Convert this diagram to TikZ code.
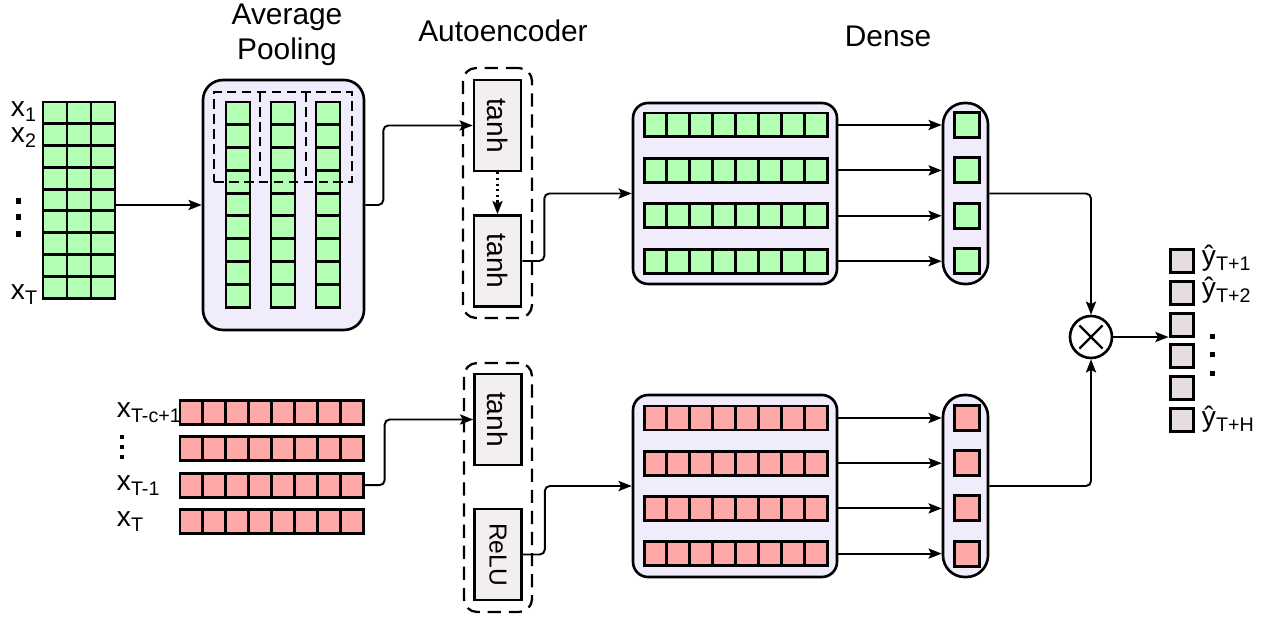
\documentclass[tikz,border=0pt]{standalone}
\usepackage{fontspec,graphicx}
\setmainfont{Liberation Sans}
\usetikzlibrary{arrows.meta,calc,positioning}

\definecolor{cellgreen}{RGB}{179,255,179}
\definecolor{cellred}{RGB}{255,168,168}
\definecolor{boxlav}{RGB}{240,236,252}
\definecolor{actfill}{RGB}{243,238,241}
\definecolor{outfill}{RGB}{229,221,223}

\begin{document}
\begin{tikzpicture}[x=0.02cm,y=-0.02cm,line width=1.1pt,>={Stealth[length=7.5pt,width=5.8pt,inset=1.5pt]},
gcell/.style={draw,fill=cellgreen,line width=1.7pt,inner sep=0pt,minimum width=0.458cm,minimum height=0.48cm},
rcell/.style={gcell,fill=cellred},
lavbox/.style={draw,fill=boxlav,line width=1.5pt,inner sep=0pt},
act/.style={draw,fill=actfill,line width=1.5pt,inner sep=0pt,minimum width=0.94cm,minimum height=1.82cm,font=\fontsize{16}{19}\selectfont},
encwrap/.style={draw,dash pattern=on 7.5pt off 4.5pt,line width=1.3pt,rounded corners=0.26cm,minimum width=1.38cm,minimum height=5cm},
win/.style={dash pattern=on 5.5pt off 3pt,line width=1.1pt},
ocell/.style={draw,fill=outfill,line width=1.7pt,inner sep=0pt,minimum size=0.46cm},
lbl/.style={inner sep=0pt,font=\fontsize{16}{19}\selectfont},
title/.style={inner sep=0pt,font=\fontsize{17}{20}\selectfont},
dot/.style={fill=black,inner sep=0pt,minimum size=#1},
flow/.style={->,rounded corners=0.1cm}]
\useasboundingbox (0,0) rectangle (1271,617);

\node[title,anchor=base] at (287,25) (avg-t) {Average};
\node[title,anchor=base] at (287,60) (pool-t) {Pooling};
\node[title,anchor=base] at (503,42) (enc-t) {Autoencoder};
\node[title,anchor=base] at (888,47) (dense-t) {Dense};

\foreach \r in {1,...,9}
  \foreach \c in {1,2,3}
    \node[gcell,minimum width=0.48cm,minimum height=0.436cm] at ({55+24*(\c-1)},{112.9+21.8*(\r-1)}) (in-\r-\c) {};
\node[lbl,anchor=base west] at (10,117) (x1) {x\textsubscript{1}};
\node[lbl,anchor=base west] at (10,143) (x2) {x\textsubscript{2}};
\node[lbl,anchor=base west] at (10,300) (xT) {x\textsubscript{T}};
\node[dot=0.12cm] at (18.5,201) (dl1) {};
\node[dot=0.12cm] at (18.5,217) (dl2) {};
\node[dot=0.12cm] at (18.5,234) (dl3) {};

\node[lavbox,rounded corners=0.4cm,minimum width=3.22cm,minimum height=5cm] at (283.5,205) (pool) {};
\foreach \c/\xc in {1/238,2/283,3/328}
  \foreach \r in {1,...,9}
    \node[gcell,minimum width=0.48cm,minimum height=0.456cm] at (\xc,{113.4+22.8*(\r-1)}) (pc-\c-\r) {};
\node[win,draw,minimum width=2.76cm,minimum height=1.8cm] at (283,137) (win) {};
\draw[win] (260,92) -- (260,182);
\draw[win] (306,92) -- (306,182);
\draw[->] (in-5-3.east |- pool.west) -- (pool.west);

\node[encwrap] at (497.5,193) (encA) {};
\node[act] at (497.5,125.5) (enc1) {\rotatebox{-90}{tanh}};
\node[act] at (497.5,261) (enc2) {\rotatebox{-90}{tanh}};
\draw[->,dotted,line width=1.2pt] (enc1) -- (enc2);
\draw[flow] (pool.east) -- ++(18,0) |- (enc1.west);

\node[lavbox,rounded corners=0.3cm,minimum width=4.08cm,minimum height=3.62cm] at (735,193.5) (dtop) {};
\foreach \r in {1,...,4}
  \foreach \c in {1,...,8}
    \node[gcell] at ({655.45+22.9*(\c-1)},{125+45.4*(\r-1)}) (dt-\r-\c) {};
\node[lavbox,rounded corners=0.43cm,minimum width=0.9cm,minimum height=3.62cm] at (965.5,193.5) (stop) {};
\foreach \r in {1,...,4} {
  \node[gcell,minimum size=0.5cm] at (966.5,{125+45.4*(\r-1)}) (st-\r) {};
  \draw[->] (dtop.east |- st-\r) -- (st-\r -| stop.west);
}
\draw[flow] (enc2.east) -- ++(22,0) |- (dtop.west);

\foreach \r in {1,...,4}
  \foreach \c in {1,...,8}
    \node[rcell] at ({191.45+22.9*(\c-1)},{412.5+36.3*(\r-1)}) (ib-\r-\c) {};
\node[lbl,anchor=base west] at (116,418) (xc) {x\textsubscript{T-c+1}};
\node[lbl,anchor=base west] at (116,491) (xT1) {x\textsubscript{T-1}};
\node[lbl,anchor=base west] at (116,527) (xTb) {x\textsubscript{T}};
\node[dot=0.08cm] at (122,437) (db1) {};
\node[dot=0.08cm] at (122,447) (db2) {};
\node[dot=0.08cm] at (122,457) (db3) {};

\node[encwrap,minimum width=1.36cm,minimum height=4.98cm] at (498,487.5) (encB) {};
\node[act] at (498,419.5) (enc3) {\rotatebox{-90}{tanh}};
\node[act,font=\fontsize{14}{16}\selectfont] at (498,554.5) (relu) {\rotatebox{-90}{ReLU}};
\draw[flow] (ib-3-8.east) -- ++(20,0) |- (enc3.west);

\node[lavbox,rounded corners=0.3cm,minimum width=4.08cm,minimum height=3.64cm] at (735,486) (dbot) {};
\foreach \r in {1,...,4}
  \foreach \c in {1,...,8}
    \node[rcell] at ({655.45+22.9*(\c-1)},{418+45.2*(\r-1)}) (db-\r-\c) {};
\node[lavbox,rounded corners=0.43cm,minimum width=0.9cm,minimum height=3.64cm] at (965.5,486) (sbot) {};
\foreach \r in {1,...,4} {
  \node[rcell,minimum size=0.5cm] at (966.5,{418+45.2*(\r-1)}) (sb-\r) {};
  \draw[->] (dbot.east |- sb-\r) -- (sb-\r -| sbot.west);
}
\draw[flow] (relu.east) -- ++(22,0) |- (dbot.west);

\node[circle,draw,line width=1.5pt,minimum size=0.84cm] at (1091,337) (mult) {};
\draw[line width=1.3pt,shorten <=0.12cm,shorten >=0.12cm] (mult.north west) -- (mult.south east);
\draw[line width=1.3pt,shorten <=0.12cm,shorten >=0.12cm] (mult.north east) -- (mult.south west);
\draw[flow] (stop.east) -| (mult.north);
\draw[flow] (sbot.east) -| (mult.south);

\foreach \i in {1,...,6}
  \node[ocell] at (1181.5,{261+31.8*(\i-1)}) (out-\i) {};
\draw[->] (mult.east) -- (mult -| out-3.west);
\node[lbl,anchor=base west] at (1201,266) (y1) {ŷ\textsubscript{T+1}};
\node[lbl,anchor=base west] at (1201,298) (y2) {ŷ\textsubscript{T+2}};
\node[lbl,anchor=base west] at (1201,427) (yH) {ŷ\textsubscript{T+H}};
\node[dot=0.1cm] at (1212,337) (do1) {};
\node[dot=0.1cm] at (1212,355) (do2) {};
\node[dot=0.1cm] at (1212,374) (do3) {};
\end{tikzpicture}
\end{document}
